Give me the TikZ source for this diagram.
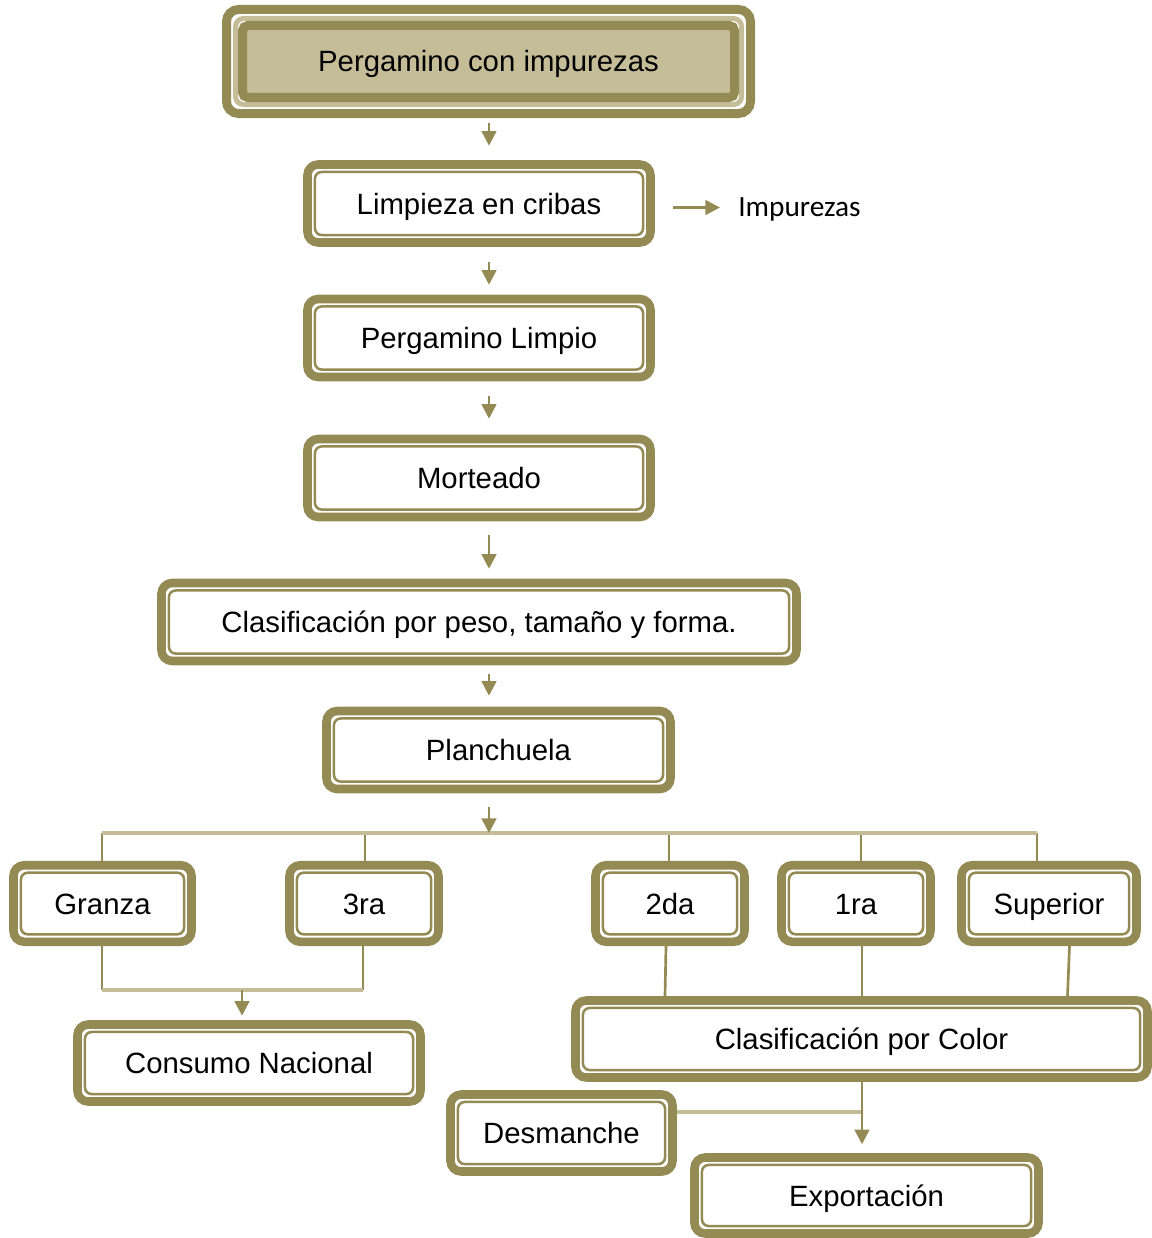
\documentclass[tikz,border=0pt]{standalone}
\usepackage{fontspec}
\setmainfont{Liberation Sans}
\newfontfamily\calibrifont{Carlito}
\usetikzlibrary{arrows.meta,calc}
\definecolor{frameolive}{HTML}{948A54}
\definecolor{framelight}{HTML}{C4BD97}

\tikzset{
  stage/.style={draw=frameolive, line width=6.4pt, rounded corners=8pt, fill=white,
    inner sep=0pt, text=black, font=\fontsize{22}{26}\selectfont,
    text height=15.75pt, text depth=0pt,
    path picture={\draw[frameolive, line width=1.9pt, rounded corners=5pt]
      ([shift={(5.6pt,-5.6pt)}]path picture bounding box.north west) rectangle
      ([shift={(-5.6pt,5.6pt)}]path picture bounding box.south east);}},
  headstage/.style={draw=frameolive, line width=6.75pt, rounded corners=9pt, fill=white,
    inner sep=0pt, text=black, font=\fontsize{22}{26}\selectfont,
    text height=15.75pt, text depth=0pt,
    path picture={
      \draw[framelight, line width=3.75pt, rounded corners=6pt]
        ([shift={(6.75pt,-6.75pt)}]path picture bounding box.north west) rectangle
        ([shift={(-6.75pt,6.75pt)}]path picture bounding box.south east);
      \draw[frameolive, fill=framelight, line width=6.75pt, rounded corners=4pt]
        ([shift={(12pt,-12pt)}]path picture bounding box.north west) rectangle
        ([shift={(-12pt,12pt)}]path picture bounding box.south east);}},
  arr/.style={frameolive, line width=2pt, -{Triangle[length=11pt,width=11pt]}},
  link/.style={frameolive, line width=2pt},
  bus/.style={framelight, line width=2.6pt},
  label/.style={inner sep=0pt, font=\calibrifont\fontsize{22}{26}\selectfont, text=black,
    text height=14.2pt, text depth=0pt},
}

\begin{document}
\begin{tikzpicture}[x=0.75pt,y=-0.75pt]
\useasboundingbox (0,0) rectangle (1152,1238);

% main column
\node[headstage, minimum width=393pt, minimum height=78pt] (top) at (488.5,61.5) {Pergamino con impurezas};
\node[stage, minimum width=257.25pt, minimum height=58.5pt] (lim) at (479,203.5) {Limpieza en cribas};
\node[stage, minimum width=257.25pt, minimum height=58.5pt] (pl) at (479,338) {Pergamino Limpio};
\node[stage, minimum width=257.25pt, minimum height=58.5pt] (mort) at (479,478) {Morteado};
\node[stage, minimum width=476.25pt, minimum height=58.5pt] (clas) at (479,622) {Clasificación por peso, tamaño y forma.};
\node[stage, minimum width=258pt, minimum height=58.5pt] (plan) at (498.5,750) {Planchuela};
\node[label, anchor=west] (imp) at (738,207.5) {Impurezas};

% grades
\node[stage, minimum width=133.5pt, minimum height=57.4pt] (gra) at (102.5,903.5) {Granza};
\node[stage, minimum width=111.75pt, minimum height=57.4pt] (r3) at (364,903.5) {3ra};
\node[stage, minimum width=111.75pt, minimum height=57.4pt] (r2) at (670,903.5) {2da};
\node[stage, minimum width=111.75pt, minimum height=57.4pt] (r1) at (856,903.5) {1ra};
\node[stage, minimum width=131.25pt, minimum height=57.4pt] (sup) at (1049,903.5) {Superior};

% destinations
\node[stage, minimum width=257.25pt, minimum height=57.75pt] (cons) at (249,1063) {Consumo Nacional};
\node[stage, minimum width=429pt, minimum height=57.75pt] (color) at (861.5,1039) {Clasificación por Color};
\node[stage, minimum width=166.5pt, minimum height=57.75pt] (desm) at (561.5,1133) {Desmanche};
\node[stage, minimum width=258pt, minimum height=57pt] (exp) at (866.5,1195.5) {Exportación};

% main column arrows
\coordinate (ax) at (489,0);
\draw[arr, shorten <=3.4pt, shorten >=10.9pt] (top.south -| ax) -- (lim.north -| ax);
\draw[arr, shorten <=11.6pt, shorten >=7.5pt] (lim.south -| ax) -- (pl.north -| ax);
\draw[arr, shorten <=11.25pt, shorten >=12pt] (pl.south -| ax) -- (mort.north -| ax);
\draw[arr, shorten <=10.5pt, shorten >=7.5pt] (mort.south -| ax) -- (clas.north -| ax);
\draw[arr, shorten <=6.75pt, shorten >=8.25pt] (clas.south -| ax) -- (plan.north -| ax);
\draw[arr, shorten <=13.9pt, shorten >=13.5pt] (lim.east |- imp.west) -- (imp.west);

% distribution bus
\coordinate (busC) at (489,833);
\coordinate (bG) at (102,833);
\coordinate (b3) at (365,833);
\coordinate (b2) at (669,833);
\coordinate (b1) at (861,833);
\coordinate (bS) at (1037,833);
\draw[link] (bG) -- (bG |- gra.north);
\draw[link] (b3) -- (b3 |- r3.north);
\draw[link] (b2) -- (b2 |- r2.north);
\draw[link] (b1) -- (b1 |- r1.north);
\draw[link] (bS) -- (bS |- sup.north);
\draw[bus] (bG) -- (bS);
\draw[arr, shorten <=10.5pt] (plan.south -| ax) -- (busC);

% national consumption
\coordinate (jG) at (102,990);
\coordinate (j3) at (363,990);
\coordinate (jC) at (242,990);
\draw[link] (gra.south -| jG) -- (jG);
\draw[link] (r3.south -| j3) -- (j3);
\draw[bus] (jG) -- (j3);
\draw[arr, shorten >=3.4pt] (jC) -- (jC |- cons.north);

% colour sorting and export
\coordinate (t2) at (666,0);   \coordinate (u2) at (665,0);
\coordinate (t1) at (862,0);   \coordinate (u1) at (862,0);
\coordinate (tS) at (1069.5,0); \coordinate (uS) at (1067.5,0);
\draw[link] (t2 |- r2.south) -- (u2 |- color.north);
\draw[link] (t1 |- r1.south) -- (u1 |- color.north);
\draw[link] (tS |- sup.south) -- (uS |- color.north);
\coordinate (xe) at (862,0);
\coordinate (dj) at (862,1112);
\draw[bus] (desm.east |- dj) -- (dj);
\draw[arr, shorten >=6.75pt] (color.south -| xe) -- (exp.north -| xe);

\end{tikzpicture}
\end{document}
